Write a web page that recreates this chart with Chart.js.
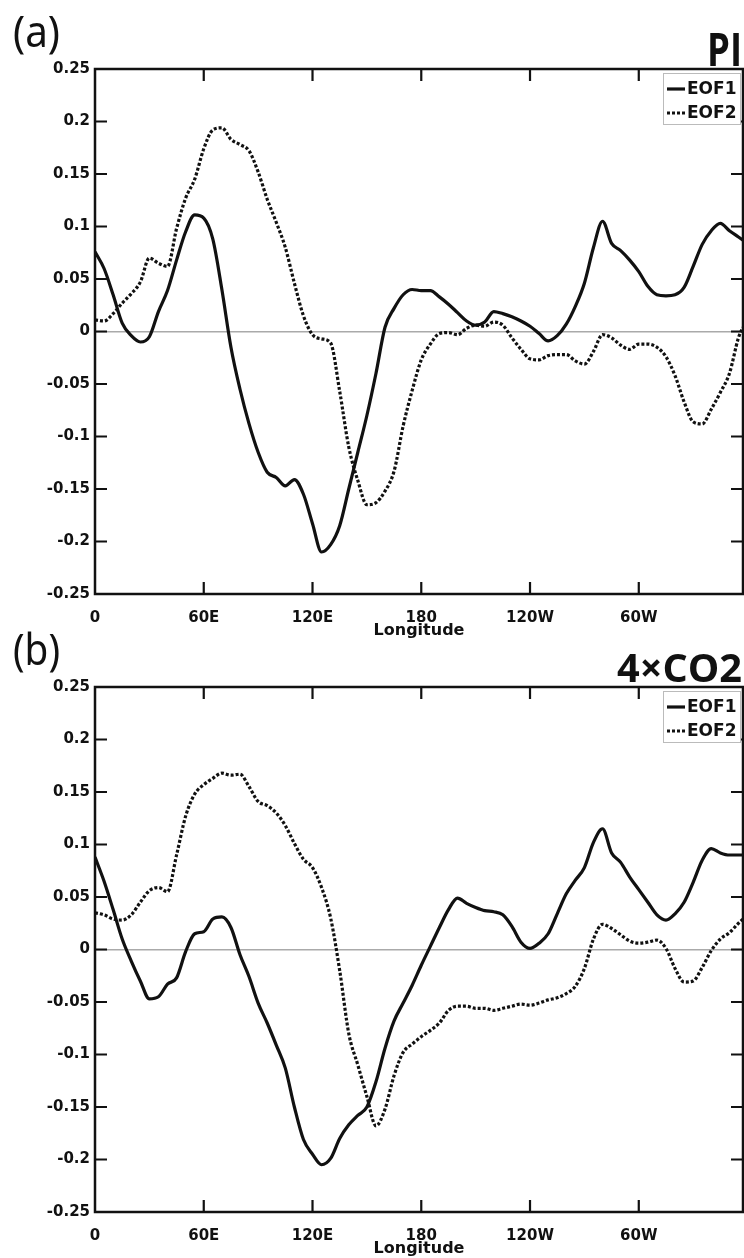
<!DOCTYPE html>
<html>
<head>
<meta charset="utf-8">
<script src="https://cdn.jsdelivr.net/npm/chart.js@4.4.1/dist/chart.umd.min.js"></script>
<style>
  body { margin: 0; background: #fff; }
  #wrap { position: relative; width: 744px; height: 1258px; }
  canvas { position: absolute; left: 0; }
  #chartPI { top: 0; }
  #chartCO2 { top: 600px; }
</style>
</head>
<body>
<div id="wrap">
  <canvas id="chartPI" width="744" height="640"></canvas>
  <canvas id="chartCO2" width="744" height="658"></canvas>
</div>
<script>
// longitude grid (degrees east), read every 5 deg
const lon = [0, 5, 10, 15, 20, 25, 30, 35, 40, 45,
  50, 55, 60, 65, 70, 75, 80, 85, 90, 95,
  100, 105, 110, 115, 120, 125, 130, 135, 140, 145,
  150, 155, 160, 165, 170, 175, 180, 185, 190, 195,
  200, 205, 210, 215, 220, 225, 230, 235, 240, 245,
  250, 255, 260, 265, 270, 275, 280, 285, 290, 295,
  300, 305, 310, 315, 320, 325, 330, 335, 340, 345,
  350, 355, 357.5];

const lonTicks = [0, 60, 120, 180, 240, 300];
const lonTickLabels = ['0', '60E', '120E', '180', '120W', '60W'];
const seriesNames = ['EOF1', 'EOF2'];
const panelLetters = ['(a)', '(b)'];
const panelTitles = ['PI', '4×CO2'];

// (a) PI
const piEof1 = [0.076, 0.060, 0.035, 0.008, -0.004, -0.010, -0.005, 0.019, 0.039, 0.068,
  0.095, 0.111, 0.108, 0.088, 0.040, -0.015, -0.055, -0.088, -0.115, -0.134,
  -0.139, -0.147, -0.141, -0.155, -0.183, -0.210, -0.203, -0.185, -0.150, -0.115,
  -0.080, -0.040, 0.004, 0.022, 0.035, 0.040, 0.039, 0.039, 0.033, 0.026,
  0.018, 0.010, 0.006, 0.009, 0.019, 0.017, 0.014, 0.010, 0.005, -0.002,
  -0.009, -0.004, 0.007, 0.024, 0.046, 0.080, 0.105, 0.084, 0.077, 0.068,
  0.057, 0.043, 0.035, 0.034, 0.035, 0.042, 0.062, 0.083, 0.096, 0.103,
  0.096, 0.090, 0.087];

const piEof2 = [0.011, 0.010, 0.017, 0.027, 0.036, 0.047, 0.070, 0.065, 0.062, 0.098,
  0.127, 0.145, 0.174, 0.192, 0.194, 0.183, 0.178, 0.172, 0.152, 0.126,
  0.104, 0.080, 0.046, 0.015, -0.003, -0.007, -0.011, -0.057, -0.110, -0.142,
  -0.165, -0.163, -0.152, -0.133, -0.090, -0.056, -0.027, -0.012, -0.002, -0.001,
  -0.003, 0.003, 0.006, 0.005, 0.009, 0.006, -0.006, -0.017, -0.026, -0.027,
  -0.023, -0.022, -0.022, -0.028, -0.031, -0.019, -0.003, -0.006, -0.013, -0.017,
  -0.012, -0.012, -0.015, -0.024, -0.042, -0.067, -0.086, -0.088, -0.074, -0.058,
  -0.040, -0.006, 0.004];

// (b) 4xCO2
const co2Eof1 = [0.088, 0.065, 0.038, 0.010, -0.011, -0.030, -0.047, -0.045, -0.033, -0.027,
  -0.002, 0.015, 0.017, 0.029, 0.031, 0.021, -0.005, -0.026, -0.051, -0.070,
  -0.091, -0.113, -0.150, -0.181, -0.195, -0.205, -0.199, -0.180, -0.167, -0.158,
  -0.150, -0.126, -0.094, -0.068, -0.051, -0.034, -0.015, 0.003, 0.021, 0.038,
  0.049, 0.044, 0.040, 0.037, 0.036, 0.033, 0.022, 0.007, 0.001, 0.006,
  0.015, 0.034, 0.053, 0.066, 0.078, 0.102, 0.115, 0.092, 0.083, 0.069,
  0.057, 0.045, 0.033, 0.028, 0.034, 0.045, 0.064, 0.085, 0.096, 0.092,
  0.090, 0.090, 0.090];

const co2Eof2 = [0.035, 0.033, 0.029, 0.028, 0.033, 0.045, 0.056, 0.059, 0.055, 0.090,
  0.127, 0.148, 0.157, 0.163, 0.168, 0.166, 0.167, 0.155, 0.141, 0.137,
  0.130, 0.118, 0.101, 0.086, 0.078, 0.059, 0.030, -0.020, -0.080, -0.110,
  -0.140, -0.168, -0.152, -0.120, -0.098, -0.090, -0.083, -0.077, -0.070, -0.058,
  -0.054, -0.054, -0.056, -0.056, -0.058, -0.056, -0.054, -0.052, -0.053, -0.051,
  -0.048, -0.046, -0.042, -0.035, -0.018, 0.010, 0.024, 0.020, 0.014, 0.008,
  0.006, 0.007, 0.009, 0.001, -0.018, -0.031, -0.030, -0.017, -0.001, 0.010,
  0.016, 0.025, 0.029];

const INK = '#111';
const tickFont = { family: '"DejaVu Sans", Arial, sans-serif', size: 15, weight: 'bold' };

// draw text squeezed/stretched to a given width
function drawFitted(ctx, text, x, y, font, width, align) {
  ctx.font = font;
  const w = ctx.measureText(text).width;
  ctx.save();
  ctx.translate(x, y);
  ctx.scale(width / w, 1);
  ctx.textAlign = align;
  ctx.fillText(text, 0, 0);
  ctx.restore();
}

// box, inward ticks, panel letter, title and legend
const panelDecor = {
  id: 'panelDecor',
  afterDraw(chart, args, opts) {
    const { ctx, chartArea: a, scales: { x, y } } = chart;
    ctx.save();
    ctx.strokeStyle = INK;
    ctx.lineWidth = 2.5;
    ctx.strokeRect(a.left, a.top, a.right - a.left, a.bottom - a.top);

    ctx.lineWidth = 2.2;
    ctx.beginPath();
    x.ticks.forEach(t => {
      const px = x.getPixelForValue(t.value);
      if (px < a.left + 2 || px > a.right - 2) return;
      ctx.moveTo(px, a.bottom); ctx.lineTo(px, a.bottom - 12);
      ctx.moveTo(px, a.top); ctx.lineTo(px, a.top + 12);
    });
    y.ticks.forEach(t => {
      const py = y.getPixelForValue(t.value);
      if (py < a.top + 2 || py > a.bottom - 2) return;
      ctx.moveTo(a.left, py); ctx.lineTo(a.left + 12, py);
      ctx.moveTo(a.right, py); ctx.lineTo(a.right - 12, py);
    });
    ctx.stroke();

    ctx.fillStyle = INK;
    ctx.textBaseline = 'alphabetic';
    drawFitted(ctx, opts.letter, 13, a.top - 22, '400 44px "Noto Sans", sans-serif', 47, 'left');
    drawFitted(ctx, opts.title, a.right - 1, a.top - opts.titleLift,
      `700 ${opts.titleSize}px "Open Sans", sans-serif`, opts.titleWidth, 'right');

    // legend
    const lx = a.right - 80, ly = a.top + 4, lw = 77, lh = 51;
    ctx.fillStyle = '#fff';
    ctx.fillRect(lx, ly, lw, lh);
    ctx.strokeStyle = '#bbb';
    ctx.lineWidth = 1;
    ctx.strokeRect(lx + 0.5, ly + 0.5, lw, lh);
    chart.data.datasets.forEach((ds, i) => {
      const cy = ly + 16 + i * 24;
      ctx.strokeStyle = ds.borderColor;
      ctx.lineWidth = ds.borderWidth;
      ctx.setLineDash(ds.borderDash || []);
      ctx.beginPath();
      ctx.moveTo(lx + 4, cy);
      ctx.lineTo(lx + 22, cy);
      ctx.stroke();
      ctx.setLineDash([]);
      ctx.fillStyle = INK;
      ctx.font = 'bold 17px "DejaVu Sans", Arial, sans-serif';
      ctx.textAlign = 'left';
      ctx.textBaseline = 'middle';
      ctx.fillText(ds.label, lx + 24, cy + 1);
    });
    ctx.restore();
  }
};

function buildPanel(canvasId, idx, eof1, eof2, topPad, titleSize, titleWidth, titleLift) {
  const ctx = document.getElementById(canvasId).getContext('2d');
  const toPts = vals => lon.map((l, i) => ({ x: l, y: vals[i] }));

  return new Chart(ctx, {
    type: 'line',
    data: {
      datasets: [
        {
          label: seriesNames[0],
          data: toPts(eof1),
          borderColor: INK,
          borderWidth: 3.2,
          pointRadius: 0,
          cubicInterpolationMode: 'monotone',
        },
        {
          label: seriesNames[1],
          data: toPts(eof2),
          borderColor: INK,
          borderWidth: 3.2,
          borderDash: [3, 2],
          pointRadius: 0,
          cubicInterpolationMode: 'monotone',
        },
      ],
    },
    options: {
      responsive: false,
      animation: false,
      devicePixelRatio: 1,
      layout: { padding: { top: topPad, right: 1, left: 0, bottom: 0 } },
      plugins: {
        legend: { display: false },
        tooltip: { enabled: false },
        panelDecor: {
          letter: panelLetters[idx],
          title: panelTitles[idx],
          titleSize: titleSize,
          titleWidth: titleWidth,
          titleLift: titleLift,
        },
      },
      scales: {
        x: {
          type: 'linear',
          min: 0,
          max: 357.5,
          afterBuildTicks: scale => {
            scale.ticks = lonTicks.map(v => ({ value: v }));
          },
          afterFit: scale => { scale.height = 46; },
          grid: { display: false },
          border: { display: false },
          ticks: {
            autoSkip: false,
            maxRotation: 0,
            padding: 7,
            color: INK,
            font: tickFont,
            callback: v => lonTickLabels[lonTicks.indexOf(v)],
          },
          title: {
            display: true,
            text: 'Longitude',
            color: INK,
            font: { family: '"DejaVu Sans", Arial, sans-serif', size: 16, weight: 'bold' },
            padding: { top: 0, bottom: 0 },
          },
        },
        y: {
          min: -0.25,
          max: 0.25,
          afterFit: scale => { scale.width = 95; },
          border: { display: false },
          grid: {
            drawTicks: false,
            lineWidth: 1.5,
            color: c => (c.tick && Math.abs(c.tick.value) < 1e-9 ? '#aaa' : 'rgba(0,0,0,0)'),
          },
          ticks: {
            stepSize: 0.05,
            padding: 5,
            color: INK,
            font: tickFont,
            callback: v => String(+v.toFixed(2)),
          },
        },
      },
    },
    plugins: [panelDecor],
  });
}

buildPanel('chartPI', 0, piEof1, piEof2, 69, 46, 35, 3);
buildPanel('chartCO2', 1, co2Eof1, co2Eof2, 87, 40, 125, 5);
</script>
</body>
</html>
